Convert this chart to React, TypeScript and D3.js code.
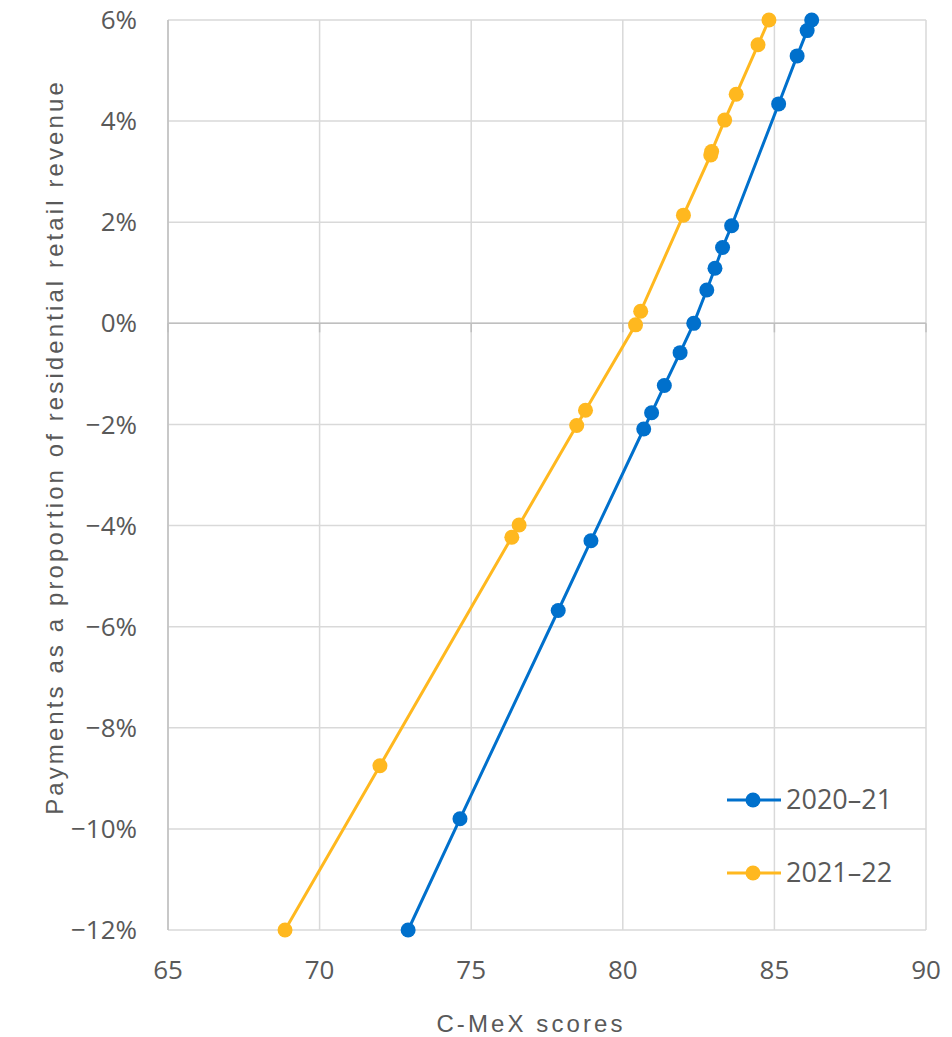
import React from "react";
import * as d3 from "d3";

// C-MeX score (x) against payment as % of residential retail revenue (y)
const series2020Scores = [72.92, 74.63, 77.87, 78.95, 80.69, 80.95, 81.37, 81.89, 82.34, 82.77, 83.04, 83.29, 83.59, 85.14, 85.75, 86.08, 86.23];
const series2020Payments = [-12, -9.8, -5.68, -4.3, -2.09, -1.77, -1.23, -0.58, 0, 0.66, 1.09, 1.5, 1.93, 4.34, 5.29, 5.79, 6];

const series2021Scores = [68.86, 71.99, 76.34, 76.58, 78.48, 78.77, 80.42, 80.59, 82.0, 82.9, 82.93, 83.36, 83.74, 84.46, 84.82];
const series2021Payments = [-12, -8.75, -4.23, -3.99, -2.02, -1.72, -0.03, 0.24, 2.14, 3.33, 3.4, 4.02, 4.53, 5.51, 6];

const seriesNames = ["2020-21", "2021-22"];
const seriesColors = ["#0070cc", "#ffb81f"];

const xTicks = [65, 70, 75, 80, 85, 90];
const yTicks = [6, 4, 2, 0, -2, -4, -6, -8, -10, -12];

const xTitle = "C-MeX scores";
const yTitle = "Payments as a proportion of residential retail revenue";

const W = 952;
const H = 1037;
const plot = { left: 168, right: 926, top: 20, bottom: 930 };

const labelFont = "'Open Sans', 'Noto Sans', sans-serif";
const titleFont = "'Liberation Sans', Arial, sans-serif";
const textColor = "#595959";

export default function App() {
  const x = d3.scaleLinear().domain([65, 90]).range([plot.left, plot.right]);
  const y = d3.scaleLinear().domain([-12, 6]).range([plot.bottom, plot.top]);

  const seriesData = [
    series2020Scores.map((s, i) => [s, series2020Payments[i]] as [number, number]),
    series2021Scores.map((s, i) => [s, series2021Payments[i]] as [number, number]),
  ];

  const line = d3
    .line<[number, number]>()
    .x((d) => x(d[0]))
    .y((d) => y(d[1]));

  const legendY = [800, 873];

  return (
    <svg width={W} height={H} style={{ display: "block", position: "absolute", left: 0, top: 0 }}>
      <rect width={W} height={H} fill="#ffffff" />

      {/* gridlines */}
      <g>
        {yTicks.map((t) => (
          <line key={"gy" + t} x1={plot.left} x2={plot.right} y1={y(t)} y2={y(t)} stroke="#d9d9d9" strokeWidth={1.5} />
        ))}
        {xTicks.map((t) => (
          <line key={"gx" + t} x1={x(t)} x2={x(t)} y1={plot.top} y2={plot.bottom} stroke="#d9d9d9" strokeWidth={1.5} />
        ))}
      </g>

      {/* axes: vertical axis on the left edge, horizontal axis crossing at zero */}
      <line x1={plot.left} x2={plot.left} y1={plot.top} y2={plot.bottom} stroke="#bfbfbf" strokeWidth={1.5} />
      <line x1={plot.left} x2={plot.right} y1={y(0)} y2={y(0)} stroke="#bfbfbf" strokeWidth={1.5} />
      {xTicks.map((t) => (
        <line key={"tk" + t} x1={x(t)} x2={x(t)} y1={y(0)} y2={y(0) + 9} stroke="#bfbfbf" strokeWidth={1.5} />
      ))}

      {/* tick labels */}
      <g fill={textColor} fontFamily={labelFont} fontSize={26}>
        {yTicks.map((t) => (
          <text key={"ly" + t} x={137} y={y(t)} dy="0.35em" textAnchor="end">
            {(t < 0 ? "\u2212" + Math.abs(t) : String(t)) + "%"}
          </text>
        ))}
        {xTicks.map((t) => (
          <text key={"lx" + t} x={x(t)} y={970} dy="0.35em" textAnchor="middle">
            {t}
          </text>
        ))}
      </g>

      {/* axis titles */}
      <text
        x={531}
        y={1024}
        dy="0.35em"
        textAnchor="middle"
        fill={textColor}
        fontFamily={titleFont}
        fontSize={24}
        letterSpacing={3.1}
      >
        {xTitle}
      </text>
      <text
        transform={`translate(55, 447) rotate(-90)`}
        textAnchor="middle"
        dy="0.35em"
        fill={textColor}
        fontFamily={titleFont}
        fontSize={24}
        letterSpacing={3.1}
      >
        {yTitle}
      </text>

      {/* series */}
      {seriesData.map((data, si) => (
        <g key={"s" + si}>
          <path d={line(data) ?? ""} fill="none" stroke={seriesColors[si]} strokeWidth={3} />
          {data.map((d, i) => (
            <circle key={i} cx={x(d[0])} cy={y(d[1])} r={7.5} fill={seriesColors[si]} />
          ))}
        </g>
      ))}

      {/* legend */}
      {seriesNames.map((name, i) => (
        <g key={"lg" + i}>
          <line x1={727} x2={781} y1={legendY[i]} y2={legendY[i]} stroke={seriesColors[i]} strokeWidth={3} />
          <circle cx={753} cy={legendY[i]} r={7.5} fill={seriesColors[i]} />
          <text x={786} y={legendY[i]} dy="0.35em" fill={textColor} fontFamily={labelFont} fontSize={27}>
            {name.replace("-", "\u2013")}
          </text>
        </g>
      ))}
    </svg>
  );
}
